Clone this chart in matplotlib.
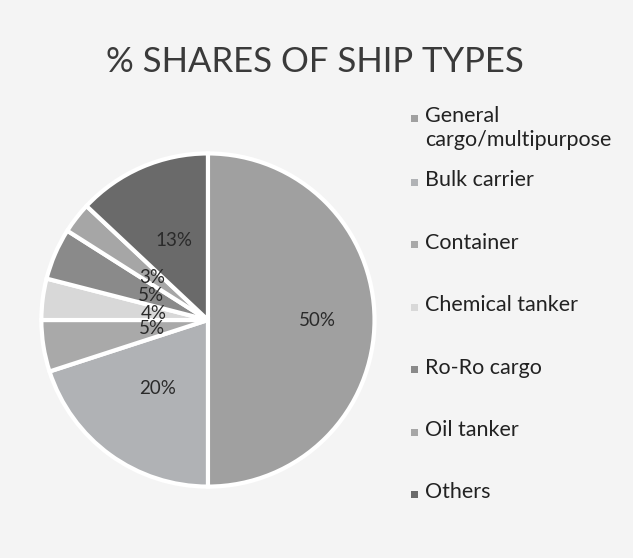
import numpy as np
import matplotlib.pyplot as plt
from matplotlib.patches import Rectangle

plt.rcParams['font.family'] = ['Lato', 'DejaVu Sans']

# ship type shares (%)
ship_types = ['General\ncargo/multipurpose', 'Bulk carrier', 'Container',
              'Chemical tanker', 'Ro-Ro cargo', 'Oil tanker', 'Others']
shares = [50, 20, 5, 4, 5, 3, 13]
colors = ['#a0a0a0', '#b0b2b5', '#a9a9a9', '#d8d8d8', '#8a8a8a', '#a6a6a6', '#6a6a6a']

# distance of each percentage label from the centre (fraction of radius)
label_r = [0.66, 0.51, 0.34, 0.33, 0.37, 0.42, 0.52]

fig = plt.figure(figsize=(6.33, 5.58), dpi=100)
fig.patch.set_facecolor('#f4f4f4')

fig.text(0.497, 0.888, '% SHARES OF SHIP TYPES', ha='center', va='center',
         fontsize=25, color='#3a3a3a')

ax = fig.add_axes([0.060, 0.122, 0.537, 0.609])
wedges, texts, autotexts = ax.pie(
    shares, colors=colors, startangle=90, counterclock=False,
    autopct='%d%%', pctdistance=0.6,
    wedgeprops=dict(edgecolor='white', linewidth=3),
    textprops=dict(fontsize=13.5, color='#2a2a2a'))
for w, t, r in zip(wedges, autotexts, label_r):
    ang = np.deg2rad((w.theta1 + w.theta2) / 2)
    t.set_position((r * np.cos(ang), r * np.sin(ang)))
ax.set_xlim(-1.02, 1.02)
ax.set_ylim(-1.02, 1.02)
ax.set_aspect('equal')
ax.axis('off')

# legend drawn as a column of swatches and labels
W, H = fig.get_size_inches() * fig.dpi
y0 = 118
step = 62.5
for i, (name, c) in enumerate(zip(ship_types, colors)):
    y = y0 + i * step
    if i > 0:
        y += 1.5
    fig.patches.append(Rectangle((411 / W, 1 - (y + 3.5) / H), 7 / W, 7 / H,
                                 facecolor=c, edgecolor='none',
                                 transform=fig.transFigure, figure=fig))
    fig.text(425 / W, 1 - (y - 12) / H, name, ha='left', va='top',
             fontsize=15.5, color='#222222', linespacing=1.25)

fig.savefig('out.png', dpi=100, facecolor=fig.get_facecolor())
